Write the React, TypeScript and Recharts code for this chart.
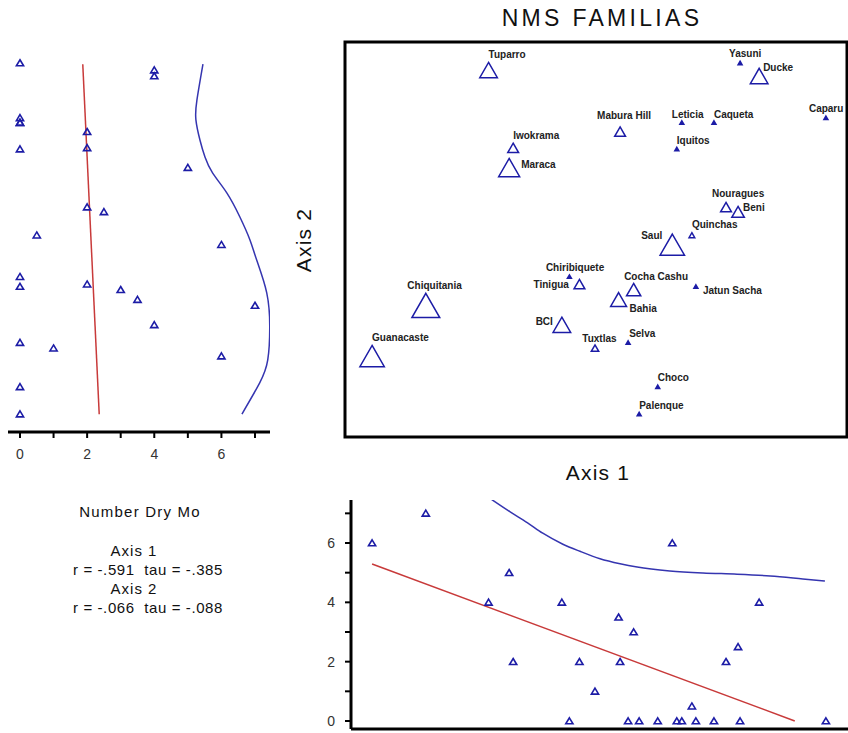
import React from 'react';
import { ScatterChart, Scatter, XAxis, YAxis, ReferenceArea } from 'recharts';

// NMS ordination of sites (families), with number of dry months
const sites = [
  'Guanacaste', 'Chiquitania', 'Tuparro', 'Maraca', 'Iwokrama', 'BCI', 'Chiribiquete',
  'Tinigua', 'Tuxtlas', 'Bahia', 'Mabura Hill', 'Cocha Cashu', 'Selva', 'Palenque',
  'Choco', 'Saul', 'Iquitos', 'Leticia', 'Quinchas', 'Jatun Sacha', 'Caqueta',
  'Nouragues', 'Beni', 'Yasuni', 'Ducke', 'Caparu',
];
const axis1 = [
  5.4, 16.1, 28.6, 32.7, 33.5, 43.2, 44.7, 46.7, 49.8, 54.5, 54.8, 57.5, 56.4, 58.6,
  62.3, 65.2, 66.1, 67.1, 69.1, 69.9, 73.5, 75.9, 78.3, 78.7, 82.5, 95.8,
];
const axis2 = [
  20.5, 33.3, 92.9, 68.2, 73.2, 28.4, 40.6, 38.7, 22.5, 34.8, 77.3, 37.3, 23.9, 5.8,
  12.7, 48.7, 72.9, 79.6, 51.1, 38.1, 79.6, 58.2, 57.0, 94.7, 91.4, 80.8,
];
const dryMonths = [
  6, 7, 4, 5, 2, 4, 0, 2, 1, 3.5, 2, 3, 0, 0, 0, 6, 0, 0, 0.5, 0, 0, 2, 2.5, 0, 4, 0,
];

const dryTicks = [0, 1, 2, 3, 4, 5, 6, 7];

// fitted lines
const leftTrendDry = [1.87, 2.36];
const leftTrendAxis2 = [94.35, 5.75];
const leftSmoothDry = [5.45, 5.27, 5.24, 5.36, 5.51, 5.74, 6.16, 6.55, 6.85, 7.05, 7.35, 7.44, 7.38, 7.14, 6.61];
const leftSmoothAxis2 = [94.4, 85.3, 80.3, 75.2, 70.9, 66.8, 61.8, 55.7, 49.9, 44.8, 36.5, 27.8, 19.5, 13.7, 5.8];

const bottomTrendAxis1 = [5.4, 89.6];
const bottomTrendDry = [5.29, 0];
const bottomSmoothAxis1 = [29.1, 32.9, 36.3, 39.4, 43.4, 46.8, 50.8, 54.8, 58.2, 64.7, 71.3, 78.1, 84.7, 91.2, 95.6];
const bottomSmoothDry = [7.48, 7.05, 6.69, 6.33, 5.96, 5.72, 5.47, 5.3, 5.19, 5.06, 4.99, 4.95, 4.89, 4.79, 4.72];

// label placement around each site marker: dx, dy, anchor
const labelOffsets: Record<string, [number, number, 'start' | 'end']> = {
  Tuparro: [0, -12, 'start'],
  Iwokrama: [0, -8.5, 'start'],
  Maraca: [12, 0, 'start'],
  Yasuni: [-11, -5.5, 'start'],
  Ducke: [4, -4.5, 'start'],
  'Mabura Hill': [-23, -13, 'start'],
  Leticia: [-10, -5, 'start'],
  Caqueta: [0, -5, 'start'],
  Caparu: [-17, -5.5, 'start'],
  Iquitos: [0, -5, 'start'],
  Nouragues: [-14, -10.5, 'start'],
  Beni: [5, -1, 'start'],
  Quinchas: [0, -7.5, 'start'],
  Saul: [-10, -6, 'end'],
  Chiribiquete: [-23.5, -5.5, 'start'],
  Tinigua: [-10.5, 4, 'end'],
  Chiquitania: [-18.5, -16, 'start'],
  Guanacaste: [0, -15, 'start'],
  BCI: [-9, 0, 'end'],
  Tuxtlas: [-12.7, -6, 'start'],
  'Cocha Cashu': [-9.5, -10, 'start'],
  Bahia: [11, 12, 'start'],
  'Jatun Sacha': [7, 7, 'start'],
  Selva: [1, -6, 'start'],
  Choco: [0, -6, 'start'],
  Palenque: [0, -5.5, 'start'],
};

const FONT = '"Liberation Sans", Arial, sans-serif';
const MARK = '#1c1ca6';
const RED = '#c83a3a';
const BLUE = '#3535b0';

const nmsPoints = sites.map((name, i) => ({ name, x: axis1[i], y: axis2[i], dry: dryMonths[i] }));
const leftPoints = sites.map((name, i) => ({ name, x: dryMonths[i], y: axis2[i] }));
const bottomPoints = sites.map((name, i) => ({ name, x: axis1[i], y: dryMonths[i] }));

const toXY = (xs: number[], ys: number[]) => xs.map((x, i) => ({ x, y: ys[i] }));

function noDot() {
  return <g />;
}

function smallTriangle(props: any) {
  const { cx, cy } = props;
  if (cx == null || cy == null) return <g />;
  return (
    <path
      d={`M${cx},${cy - 3.2}L${cx + 3.6},${cy + 2.8}L${cx - 3.6},${cy + 2.8}Z`}
      fill="none"
      stroke={MARK}
      strokeWidth={1.6}
    />
  );
}

function siteMarker(props: any) {
  const { cx, cy, payload } = props;
  if (cx == null || cy == null) return <g />;
  const w = 4 + 3.4 * payload.dry;
  const h = 0.87 * w;
  const [dx, dy, anchor] = labelOffsets[payload.name] ?? [0, -6, 'start'];
  return (
    <g>
      <path
        d={`M${cx},${cy - h / 2}L${cx + w / 2},${cy + h / 2}L${cx - w / 2},${cy + h / 2}Z`}
        fill={payload.dry < 0.3 ? MARK : 'none'}
        stroke={MARK}
        strokeWidth={1.5}
      />
      <text
        x={cx + dx}
        y={cy + dy}
        textAnchor={anchor}
        fontSize={10}
        fontWeight="bold"
        fill="#222"
        fontFamily={FONT}
      >
        {payload.name}
      </text>
    </g>
  );
}

const evenOnly = (v: number) => (v % 2 === 0 ? String(v) : '');
const tickStyle = { fontSize: 14, fill: '#333', fontFamily: FONT };
const layer: React.CSSProperties = { position: 'absolute', left: 0, top: 0 };

function Label({ x, y, size, children, rotate, spacing }: any) {
  return (
    <div
      style={{
        position: 'absolute',
        left: x,
        top: y,
        transform: `translate(-50%, -50%)${rotate ? ' rotate(-90deg)' : ''}`,
        fontFamily: FONT,
        fontSize: size,
        letterSpacing: spacing ?? 0,
        color: '#111',
        whiteSpace: 'pre',
        lineHeight: 1,
      }}
    >
      {children}
    </div>
  );
}

export default function App() {
  return (
    <div style={{ position: 'absolute', left: 0, top: 0, width: 848, height: 733, background: '#fff', overflow: 'hidden' }}>
      {/* left: dry months vs Axis 2 */}
      <div style={layer}>
        <ScatterChart width={848} height={733} margin={{ top: 42, right: 578, bottom: 271, left: 8 }}>
          <XAxis
            type="number"
            dataKey="x"
            domain={[-0.357, 7.447]}
            ticks={dryTicks}
            interval={0}
            tickFormatter={evenOnly}
            tickSize={6}
            tickMargin={11}
            height={30}
            allowDataOverflow
            axisLine={{ stroke: '#000', strokeWidth: 3 }}
            tickLine={{ stroke: '#000', strokeWidth: 2 }}
            tick={tickStyle}
          />
          <YAxis
            type="number"
            dataKey="y"
            domain={[1.27, 100]}
            width={0}
            tick={false}
            tickLine={false}
            allowDataOverflow
            axisLine={{ stroke: '#000', strokeWidth: 3 }}
          />
          <Scatter data={toXY(leftTrendDry, leftTrendAxis2)} line={{ stroke: RED, strokeWidth: 1.5 }} shape={noDot} isAnimationActive={false} />
          <Scatter
            data={toXY(leftSmoothDry, leftSmoothAxis2)}
            line={{ stroke: BLUE, strokeWidth: 1.5 }}
            lineJointType="natural"
            shape={noDot}
            isAnimationActive={false}
          />
          <Scatter data={leftPoints} shape={smallTriangle} isAnimationActive={false} />
        </ScatterChart>
      </div>

      {/* top right: NMS ordination */}
      <div style={layer}>
        <ScatterChart width={848} height={733} margin={{ top: 42, right: 1, bottom: 296, left: 345 }}>
          <XAxis type="number" dataKey="x" domain={[0, 100]} hide allowDataOverflow />
          <YAxis type="number" dataKey="y" domain={[0, 100]} hide allowDataOverflow />
          <ReferenceArea x1={0} x2={100} y1={0} y2={100} fill="none" fillOpacity={0} stroke="#000" strokeWidth={3} strokeOpacity={1} />
          <Scatter data={nmsPoints} shape={siteMarker} isAnimationActive={false} />
        </ScatterChart>
      </div>

      {/* bottom right: Axis 1 vs dry months */}
      <div style={layer}>
        <ScatterChart width={848} height={733} margin={{ top: 500, right: 0, bottom: 0, left: 321 }}>
          <XAxis
            type="number"
            dataKey="x"
            domain={[1.2, 100.2]}
            height={4}
            tick={false}
            tickLine={false}
            allowDataOverflow
            axisLine={{ stroke: '#000', strokeWidth: 3 }}
          />
          <YAxis
            type="number"
            dataKey="y"
            domain={[-0.27, 7.45]}
            ticks={dryTicks}
            interval={0}
            tickFormatter={evenOnly}
            width={30}
            tickSize={6}
            tickMargin={10}
            allowDataOverflow
            axisLine={{ stroke: '#000', strokeWidth: 3 }}
            tickLine={{ stroke: '#000', strokeWidth: 2 }}
            tick={tickStyle}
          />
          <Scatter data={toXY(bottomTrendAxis1, bottomTrendDry)} line={{ stroke: RED, strokeWidth: 1.5 }} shape={noDot} isAnimationActive={false} />
          <Scatter
            data={toXY(bottomSmoothAxis1, bottomSmoothDry)}
            line={{ stroke: BLUE, strokeWidth: 1.5 }}
            lineJointType="monotoneX"
            shape={noDot}
            isAnimationActive={false}
          />
          <Scatter data={bottomPoints} shape={smallTriangle} isAnimationActive={false} />
        </ScatterChart>
      </div>

      <Label x={602} y={18} size={23} spacing={3.3}>NMS FAMILIAS</Label>
      <Label x={303} y={240} size={21} spacing={1.2} rotate>Axis 2</Label>
      <Label x={598} y={472} size={21} spacing={1.2}>Axis 1</Label>

      <Label x={140} y={511} size={15} spacing={1.2}>Number Dry Mo</Label>
      <Label x={134} y={550} size={15} spacing={1}>Axis 1</Label>
      <Label x={148} y={569} size={15} spacing={0.6}>{'r = -.591  tau = -.385'}</Label>
      <Label x={134} y={588} size={15} spacing={1}>Axis 2</Label>
      <Label x={148} y={607} size={15} spacing={0.6}>{'r = -.066  tau = -.088'}</Label>
    </div>
  );
}
